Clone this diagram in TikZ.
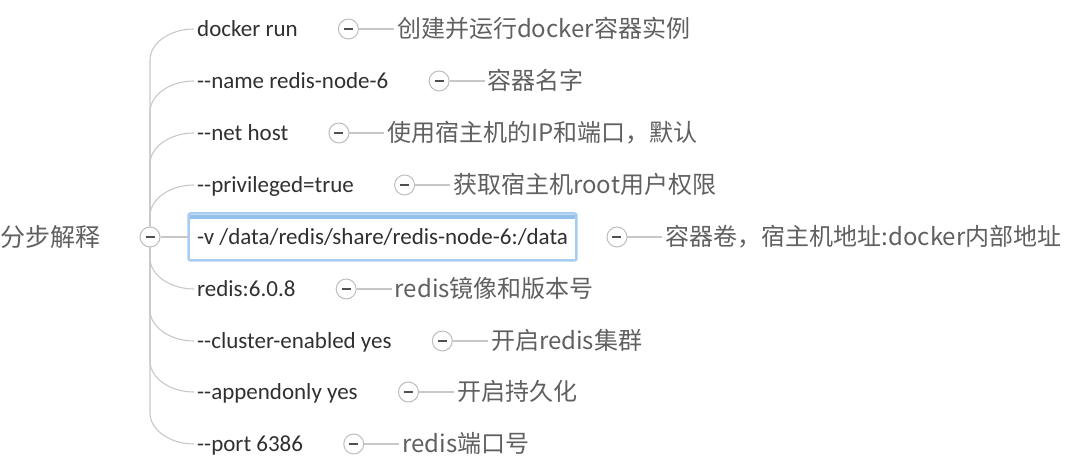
\documentclass[tikz,border=0pt]{standalone}
\usepackage{fontspec}
\setmainfont{Carlito}[Ligatures=TeXOff]
\newfontfamily\cjk{Noto Sans CJK SC}
\usetikzlibrary{positioning,calc}

\definecolor{textdark}{HTML}{303030}
\definecolor{notegray}{HTML}{606060}
\definecolor{linegray}{HTML}{C8C8C8}
\definecolor{foldgray}{HTML}{BDBDBD}
\definecolor{minusgray}{HTML}{505050}
\definecolor{selblue}{HTML}{A9CDF0}
\definecolor{selbar}{HTML}{92C1EE}

\begin{document}
\begin{tikzpicture}[x=1pt,y=1pt,
  topic/.style={anchor=west, inner xsep=3pt, inner ysep=0pt, text height=17pt, text depth=2pt, text=textdark, font=\fontsize{23}{27}\selectfont},
  minus/.style={draw=minusgray, line width=1.2pt},
  fold/.style={circle, draw=foldgray, fill=white, line width=1pt, minimum size=20pt, inner sep=0pt,
    path picture={\draw[minus] ([xshift=-4.5pt]path picture bounding box.center) -- ([xshift=4.5pt]path picture bounding box.center);}},
  note/.style={inner xsep=3pt, inner ysep=0pt, text height=21.5pt, text depth=3.5pt, text=notegray, font=\cjk\fontsize{24}{28}\selectfont},
  branch/.style={draw=linegray, line width=1.1pt},
  selected/.style={topic, draw=selblue, line width=2.5pt, rounded corners=2pt, fill=white, inner xsep=8.5pt, inner ysep=14pt, outer sep=0pt}]

\useasboundingbox (0,0) rectangle (1082,473);

% Central topic
\node[anchor=west, inner sep=0pt, text=notegray, font=\cjk\fontsize{25}{30}\selectfont] (root) at (0,236) {分步解释};
\node[fold] (rootc) at (150,236) {};

% Sub topics
\node[topic] (c1) at (194,444) {docker run};
\node[topic] (c2) at (194,392) {-{}-name redis-node-6};
\node[topic] (c3) at (194,340) {-{}-net host};
\node[topic] (c4) at (194,288) {-{}-privileged=true};
\node[selected] (c5) at (188.5,236) {-v /data/redis/share/redis-node-6:/data};
\fill[selbar] ([xshift=1.25pt,yshift=-1.25pt]c5.north west) rectangle ([xshift=-1.25pt,yshift=-6pt]c5.north east);
\node[topic] (c6) at (194,184) {redis:6.0.8};
\node[topic] (c7) at (194,132) {-{}-cluster-enabled yes};
\node[topic] (c8) at (194,81) {-{}-appendonly yes};
\node[topic] (c9) at (194,29) {-{}-port 6386};

% Fold buttons and notes
\node[fold, right=37pt of c1] (f1) {};
\node[note, right=35pt of f1] (n1) {创建并运行docker容器实例};
\node[fold, right=37pt of c2] (f2) {};
\node[note, right=35pt of f2] (n2) {容器名字};
\node[fold, right=37pt of c3] (f3) {};
\node[note, right=35pt of f3] (n3) {使用宿主机的IP和端口，默认};
\node[fold, right=37pt of c4] (f4) {};
\node[note, right=35pt of f4] (n4) {获取宿主机root用户权限};
\node[fold, right=30pt of c5] (f5) {};
\node[note, right=35pt of f5] (n5) {容器卷，宿主机地址:docker内部地址};
\node[fold, right=37pt of c6] (f6) {};
\node[note, right=35pt of f6] (n6) {redis镜像和版本号};
\node[fold, right=37pt of c7] (f7) {};
\node[note, right=35pt of f7] (n7) {开启redis集群};
\node[fold, right=37pt of c8] (f8) {};
\node[note, right=35pt of f8] (n8) {开启持久化};
\node[fold, right=37pt of c9] (f9) {};
\node[note, right=35pt of f9] (n9) {redis端口号};

% Branches
\draw[branch] (rootc.east) -- (c5.west);
\foreach \c in {c1,c2,c3,c4}
  \draw[branch] (rootc.north) -- ($(rootc.north |- \c.west)+(0,-31)$) .. controls ($(rootc.north |- \c.west)+(0,-14)$) and ($(\c.west)+(-24,0)$) .. (\c.west);
\foreach \c in {c6,c7,c8,c9}
  \draw[branch] (rootc.south) -- ($(rootc.south |- \c.west)+(0,31)$) .. controls ($(rootc.south |- \c.west)+(0,14)$) and ($(\c.west)+(-24,0)$) .. (\c.west);
\foreach \i in {1,...,9}
  \draw[branch] (f\i) -- (n\i);

\end{tikzpicture}
\end{document}
